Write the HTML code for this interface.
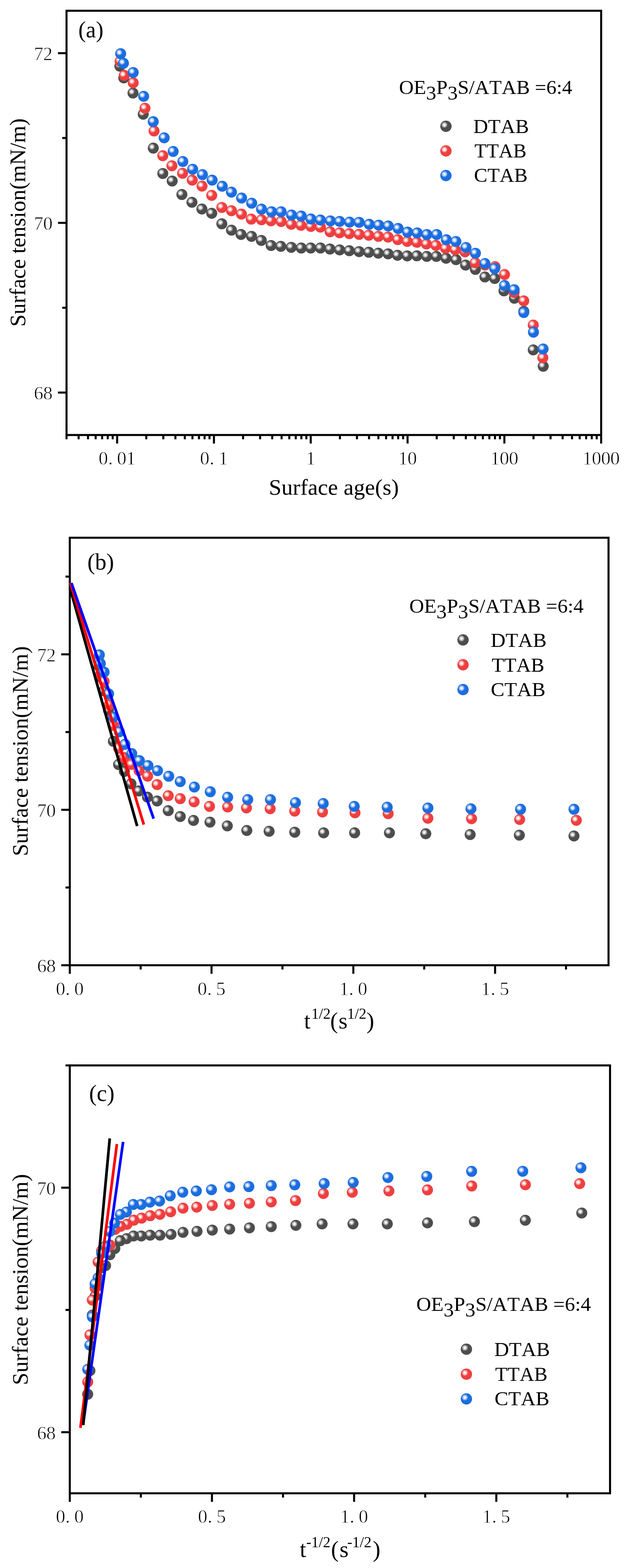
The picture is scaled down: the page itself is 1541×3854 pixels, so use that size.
<!DOCTYPE html>
<html lang="en">
<head>
<meta charset="utf-8">
<title>Dynamic surface tension of OE3P3S/ATAB mixtures</title>
<style>
html,body{margin:0;padding:0;background:#fff;}
body{width:1541px;height:3854px;overflow:hidden;}
svg{display:block;}
text{font-kerning:none;font-variant-ligatures:none;}
.tk{stroke:#fff;stroke-width:0.9px;stroke-linejoin:round;}
</style>
</head>
<body>
<svg width="1541" height="3854" viewBox="0 0 1541 3854" font-family='"Liberation Serif", serif' fill="#000">
<defs>
<g id="sk"><circle r="13.5" fill="#4d4d4d"/><circle cx="-3.6" cy="-3.4" r="7" fill="#909090"/><circle cx="-3.6" cy="-3.4" r="5.1" fill="#c6c6c6"/><circle cx="-3.6" cy="-3.4" r="2.8" fill="#fbfbfb"/></g>
<g id="sr"><circle r="13.5" fill="#ef3f40"/><circle cx="-3.6" cy="-3.4" r="7" fill="#f58b8b"/><circle cx="-3.6" cy="-3.4" r="5.1" fill="#fac3c3"/><circle cx="-3.6" cy="-3.4" r="2.8" fill="#ffffff"/></g>
<g id="sb"><circle r="13.5" fill="#1c6ddf"/><circle cx="-3.6" cy="-3.4" r="7" fill="#77a7ec"/><circle cx="-3.6" cy="-3.4" r="5.1" fill="#b5cff5"/><circle cx="-3.6" cy="-3.4" r="2.8" fill="#ffffff"/></g>
</defs>
<rect width="1541" height="3854" fill="#fff"/>
<g id="chart-a">
<use href="#sk" x="294.6" y="162.6"/>
<use href="#sk" x="304.2" y="191.4"/>
<use href="#sk" x="326.9" y="228.7"/>
<use href="#sk" x="352.0" y="280.8"/>
<use href="#sk" x="376.8" y="364.1"/>
<use href="#sk" x="400.1" y="426.4"/>
<use href="#sk" x="423.2" y="444.9"/>
<use href="#sk" x="447.0" y="478.1"/>
<use href="#sk" x="471.8" y="497.3"/>
<use href="#sk" x="496.2" y="513.8"/>
<use href="#sk" x="520.4" y="524.2"/>
<use href="#sk" x="545.2" y="550.1"/>
<use href="#sk" x="568.9" y="565.8"/>
<use href="#sk" x="592.4" y="576.3"/>
<use href="#sk" x="618.2" y="580.9"/>
<use href="#sk" x="642.3" y="591.0"/>
<use href="#sk" x="666.4" y="603.4"/>
<use href="#sk" x="690.2" y="605.5"/>
<use href="#sk" x="715.9" y="607.9"/>
<use href="#sk" x="740.4" y="609.6"/>
<use href="#sk" x="763.8" y="609.6"/>
<use href="#sk" x="787.6" y="609.6"/>
<use href="#sk" x="811.0" y="612.1"/>
<use href="#sk" x="834.8" y="614.2"/>
<use href="#sk" x="858.5" y="616.3"/>
<use href="#sk" x="882.6" y="618.4"/>
<use href="#sk" x="906.4" y="620.1"/>
<use href="#sk" x="929.8" y="622.2"/>
<use href="#sk" x="953.9" y="624.0"/>
<use href="#sk" x="977.0" y="627.5"/>
<use href="#sk" x="1000.9" y="628.9"/>
<use href="#sk" x="1024.7" y="628.8"/>
<use href="#sk" x="1048.9" y="630.2"/>
<use href="#sk" x="1072.6" y="630.2"/>
<use href="#sk" x="1096.4" y="634.8"/>
<use href="#sk" x="1120.9" y="638.3"/>
<use href="#sk" x="1144.3" y="651.5"/>
<use href="#sk" x="1168.4" y="662.1"/>
<use href="#sk" x="1191.8" y="680.7"/>
<use href="#sk" x="1215.9" y="684.5"/>
<use href="#sk" x="1238.6" y="714.9"/>
<use href="#sk" x="1264.3" y="733.1"/>
<use href="#sk" x="1287.3" y="765.2"/>
<use href="#sk" x="1310.6" y="860.0"/>
<use href="#sk" x="1335.1" y="900.2"/>
<use href="#sr" x="295.3" y="150.5"/>
<use href="#sr" x="305.4" y="185.3"/>
<use href="#sr" x="327.4" y="203.5"/>
<use href="#sr" x="356.4" y="266.0"/>
<use href="#sr" x="378.7" y="322.0"/>
<use href="#sr" x="400.1" y="382.7"/>
<use href="#sr" x="422.5" y="407.5"/>
<use href="#sr" x="448.7" y="426.0"/>
<use href="#sr" x="472.5" y="442.8"/>
<use href="#sr" x="496.6" y="457.5"/>
<use href="#sr" x="520.4" y="480.2"/>
<use href="#sr" x="545.2" y="509.9"/>
<use href="#sr" x="568.9" y="518.0"/>
<use href="#sr" x="593.4" y="526.3"/>
<use href="#sr" x="617.5" y="538.6"/>
<use href="#sr" x="642.7" y="540.3"/>
<use href="#sr" x="666.0" y="542.8"/>
<use href="#sr" x="691.0" y="544.4"/>
<use href="#sr" x="715.9" y="551.3"/>
<use href="#sr" x="739.7" y="553.7"/>
<use href="#sr" x="764.2" y="556.5"/>
<use href="#sr" x="787.6" y="558.3"/>
<use href="#sr" x="811.3" y="569.8"/>
<use href="#sr" x="834.8" y="572.2"/>
<use href="#sr" x="858.5" y="574.3"/>
<use href="#sr" x="882.6" y="576.1"/>
<use href="#sr" x="906.4" y="578.2"/>
<use href="#sr" x="930.2" y="581.0"/>
<use href="#sr" x="953.9" y="582.7"/>
<use href="#sr" x="977.7" y="589.0"/>
<use href="#sr" x="1001.0" y="593.3"/>
<use href="#sr" x="1024.5" y="595.6"/>
<use href="#sr" x="1048.0" y="599.8"/>
<use href="#sr" x="1071.5" y="603.3"/>
<use href="#sr" x="1095.0" y="610.3"/>
<use href="#sr" x="1119.0" y="613.8"/>
<use href="#sr" x="1143.0" y="619.0"/>
<use href="#sr" x="1167.8" y="645.7"/>
<use href="#sr" x="1192.0" y="651.5"/>
<use href="#sr" x="1216.8" y="655.6"/>
<use href="#sr" x="1240.0" y="674.7"/>
<use href="#sr" x="1263.6" y="718.8"/>
<use href="#sr" x="1287.3" y="739.5"/>
<use href="#sr" x="1310.6" y="799.0"/>
<use href="#sr" x="1334.2" y="879.2"/>
<use href="#sb" x="296.6" y="132.1"/>
<use href="#sb" x="303.4" y="155.5"/>
<use href="#sb" x="327.4" y="178.3"/>
<use href="#sb" x="353.1" y="236.8"/>
<use href="#sb" x="376.6" y="299.1"/>
<use href="#sb" x="403.5" y="338.7"/>
<use href="#sb" x="425.6" y="372.2"/>
<use href="#sb" x="449.4" y="397.0"/>
<use href="#sb" x="473.5" y="415.9"/>
<use href="#sb" x="497.6" y="429.2"/>
<use href="#sb" x="521.4" y="442.8"/>
<use href="#sb" x="546.2" y="457.8"/>
<use href="#sb" x="568.9" y="472.2"/>
<use href="#sb" x="593.8" y="486.8"/>
<use href="#sb" x="618.6" y="499.4"/>
<use href="#sb" x="642.7" y="514.1"/>
<use href="#sb" x="667.5" y="520.4"/>
<use href="#sb" x="691.0" y="520.5"/>
<use href="#sb" x="716.6" y="528.5"/>
<use href="#sb" x="740.4" y="531.0"/>
<use href="#sb" x="764.2" y="538.3"/>
<use href="#sb" x="787.6" y="540.8"/>
<use href="#sb" x="812.0" y="542.9"/>
<use href="#sb" x="834.8" y="544.3"/>
<use href="#sb" x="859.2" y="546.0"/>
<use href="#sb" x="882.6" y="546.4"/>
<use href="#sb" x="907.5" y="551.3"/>
<use href="#sb" x="930.9" y="553.4"/>
<use href="#sb" x="954.3" y="555.5"/>
<use href="#sb" x="978.6" y="561.6"/>
<use href="#sb" x="1001.8" y="570.5"/>
<use href="#sb" x="1025.4" y="572.5"/>
<use href="#sb" x="1049.2" y="576.4"/>
<use href="#sb" x="1073.3" y="576.4"/>
<use href="#sb" x="1097.1" y="589.3"/>
<use href="#sb" x="1120.5" y="593.5"/>
<use href="#sb" x="1145.3" y="608.2"/>
<use href="#sb" x="1168.5" y="622.4"/>
<use href="#sb" x="1191.9" y="647.7"/>
<use href="#sb" x="1215.9" y="659.9"/>
<use href="#sb" x="1240.0" y="701.7"/>
<use href="#sb" x="1263.6" y="711.9"/>
<use href="#sb" x="1287.3" y="768.1"/>
<use href="#sb" x="1311.1" y="816.4"/>
<use href="#sb" x="1334.8" y="857.7"/>
<rect x="163.5" y="26.4" width="1314.0" height="1042.8" fill="none" stroke="#000" stroke-width="5.0"/>
<line x1="142.5" y1="964.9" x2="163.5" y2="964.9" stroke="#000" stroke-width="5.0" stroke-linecap="butt"/>
<text class="tk" x="83.3 106.0" y="982.3" font-size="46.5">68</text>
<line x1="142.5" y1="547.8" x2="163.5" y2="547.8" stroke="#000" stroke-width="5.0" stroke-linecap="butt"/>
<text class="tk" x="83.3 106.0" y="565.2" font-size="46.5">70</text>
<line x1="142.5" y1="130.7" x2="163.5" y2="130.7" stroke="#000" stroke-width="5.0" stroke-linecap="butt"/>
<text class="tk" x="83.3 106.0" y="148.1" font-size="46.5">72</text>
<line x1="153.0" y1="756.4" x2="163.5" y2="756.4" stroke="#000" stroke-width="5.0" stroke-linecap="butt"/>
<line x1="153.0" y1="339.2" x2="163.5" y2="339.2" stroke="#000" stroke-width="5.0" stroke-linecap="butt"/>
<line x1="163.5" y1="1069.2" x2="163.5" y2="1079.7" stroke="#000" stroke-width="5.0" stroke-linecap="butt"/>
<line x1="193.2" y1="1069.2" x2="193.2" y2="1079.7" stroke="#000" stroke-width="5.0" stroke-linecap="butt"/>
<line x1="216.3" y1="1069.2" x2="216.3" y2="1079.7" stroke="#000" stroke-width="5.0" stroke-linecap="butt"/>
<line x1="235.1" y1="1069.2" x2="235.1" y2="1079.7" stroke="#000" stroke-width="5.0" stroke-linecap="butt"/>
<line x1="251.0" y1="1069.2" x2="251.0" y2="1079.7" stroke="#000" stroke-width="5.0" stroke-linecap="butt"/>
<line x1="264.8" y1="1069.2" x2="264.8" y2="1079.7" stroke="#000" stroke-width="5.0" stroke-linecap="butt"/>
<line x1="277.0" y1="1069.2" x2="277.0" y2="1079.7" stroke="#000" stroke-width="5.0" stroke-linecap="butt"/>
<line x1="287.9" y1="1069.2" x2="287.9" y2="1090.2" stroke="#000" stroke-width="5.0" stroke-linecap="butt"/>
<line x1="359.5" y1="1069.2" x2="359.5" y2="1079.7" stroke="#000" stroke-width="5.0" stroke-linecap="butt"/>
<line x1="401.4" y1="1069.2" x2="401.4" y2="1079.7" stroke="#000" stroke-width="5.0" stroke-linecap="butt"/>
<line x1="431.1" y1="1069.2" x2="431.1" y2="1079.7" stroke="#000" stroke-width="5.0" stroke-linecap="butt"/>
<line x1="454.2" y1="1069.2" x2="454.2" y2="1079.7" stroke="#000" stroke-width="5.0" stroke-linecap="butt"/>
<line x1="473.0" y1="1069.2" x2="473.0" y2="1079.7" stroke="#000" stroke-width="5.0" stroke-linecap="butt"/>
<line x1="489.0" y1="1069.2" x2="489.0" y2="1079.7" stroke="#000" stroke-width="5.0" stroke-linecap="butt"/>
<line x1="502.8" y1="1069.2" x2="502.8" y2="1079.7" stroke="#000" stroke-width="5.0" stroke-linecap="butt"/>
<line x1="514.9" y1="1069.2" x2="514.9" y2="1079.7" stroke="#000" stroke-width="5.0" stroke-linecap="butt"/>
<line x1="525.8" y1="1069.2" x2="525.8" y2="1090.2" stroke="#000" stroke-width="5.0" stroke-linecap="butt"/>
<line x1="597.4" y1="1069.2" x2="597.4" y2="1079.7" stroke="#000" stroke-width="5.0" stroke-linecap="butt"/>
<line x1="639.3" y1="1069.2" x2="639.3" y2="1079.7" stroke="#000" stroke-width="5.0" stroke-linecap="butt"/>
<line x1="669.1" y1="1069.2" x2="669.1" y2="1079.7" stroke="#000" stroke-width="5.0" stroke-linecap="butt"/>
<line x1="692.1" y1="1069.2" x2="692.1" y2="1079.7" stroke="#000" stroke-width="5.0" stroke-linecap="butt"/>
<line x1="711.0" y1="1069.2" x2="711.0" y2="1079.7" stroke="#000" stroke-width="5.0" stroke-linecap="butt"/>
<line x1="726.9" y1="1069.2" x2="726.9" y2="1079.7" stroke="#000" stroke-width="5.0" stroke-linecap="butt"/>
<line x1="740.7" y1="1069.2" x2="740.7" y2="1079.7" stroke="#000" stroke-width="5.0" stroke-linecap="butt"/>
<line x1="752.9" y1="1069.2" x2="752.9" y2="1079.7" stroke="#000" stroke-width="5.0" stroke-linecap="butt"/>
<line x1="763.7" y1="1069.2" x2="763.7" y2="1090.2" stroke="#000" stroke-width="5.0" stroke-linecap="butt"/>
<line x1="835.4" y1="1069.2" x2="835.4" y2="1079.7" stroke="#000" stroke-width="5.0" stroke-linecap="butt"/>
<line x1="877.3" y1="1069.2" x2="877.3" y2="1079.7" stroke="#000" stroke-width="5.0" stroke-linecap="butt"/>
<line x1="907.0" y1="1069.2" x2="907.0" y2="1079.7" stroke="#000" stroke-width="5.0" stroke-linecap="butt"/>
<line x1="930.0" y1="1069.2" x2="930.0" y2="1079.7" stroke="#000" stroke-width="5.0" stroke-linecap="butt"/>
<line x1="948.9" y1="1069.2" x2="948.9" y2="1079.7" stroke="#000" stroke-width="5.0" stroke-linecap="butt"/>
<line x1="964.8" y1="1069.2" x2="964.8" y2="1079.7" stroke="#000" stroke-width="5.0" stroke-linecap="butt"/>
<line x1="978.6" y1="1069.2" x2="978.6" y2="1079.7" stroke="#000" stroke-width="5.0" stroke-linecap="butt"/>
<line x1="990.8" y1="1069.2" x2="990.8" y2="1079.7" stroke="#000" stroke-width="5.0" stroke-linecap="butt"/>
<line x1="1001.7" y1="1069.2" x2="1001.7" y2="1090.2" stroke="#000" stroke-width="5.0" stroke-linecap="butt"/>
<line x1="1073.3" y1="1069.2" x2="1073.3" y2="1079.7" stroke="#000" stroke-width="5.0" stroke-linecap="butt"/>
<line x1="1115.2" y1="1069.2" x2="1115.2" y2="1079.7" stroke="#000" stroke-width="5.0" stroke-linecap="butt"/>
<line x1="1144.9" y1="1069.2" x2="1144.9" y2="1079.7" stroke="#000" stroke-width="5.0" stroke-linecap="butt"/>
<line x1="1168.0" y1="1069.2" x2="1168.0" y2="1079.7" stroke="#000" stroke-width="5.0" stroke-linecap="butt"/>
<line x1="1186.8" y1="1069.2" x2="1186.8" y2="1079.7" stroke="#000" stroke-width="5.0" stroke-linecap="butt"/>
<line x1="1202.7" y1="1069.2" x2="1202.7" y2="1079.7" stroke="#000" stroke-width="5.0" stroke-linecap="butt"/>
<line x1="1216.5" y1="1069.2" x2="1216.5" y2="1079.7" stroke="#000" stroke-width="5.0" stroke-linecap="butt"/>
<line x1="1228.7" y1="1069.2" x2="1228.7" y2="1079.7" stroke="#000" stroke-width="5.0" stroke-linecap="butt"/>
<line x1="1239.6" y1="1069.2" x2="1239.6" y2="1090.2" stroke="#000" stroke-width="5.0" stroke-linecap="butt"/>
<line x1="1311.2" y1="1069.2" x2="1311.2" y2="1079.7" stroke="#000" stroke-width="5.0" stroke-linecap="butt"/>
<line x1="1353.1" y1="1069.2" x2="1353.1" y2="1079.7" stroke="#000" stroke-width="5.0" stroke-linecap="butt"/>
<line x1="1382.8" y1="1069.2" x2="1382.8" y2="1079.7" stroke="#000" stroke-width="5.0" stroke-linecap="butt"/>
<line x1="1405.9" y1="1069.2" x2="1405.9" y2="1079.7" stroke="#000" stroke-width="5.0" stroke-linecap="butt"/>
<line x1="1424.7" y1="1069.2" x2="1424.7" y2="1079.7" stroke="#000" stroke-width="5.0" stroke-linecap="butt"/>
<line x1="1440.6" y1="1069.2" x2="1440.6" y2="1079.7" stroke="#000" stroke-width="5.0" stroke-linecap="butt"/>
<line x1="1454.4" y1="1069.2" x2="1454.4" y2="1079.7" stroke="#000" stroke-width="5.0" stroke-linecap="butt"/>
<line x1="1466.6" y1="1069.2" x2="1466.6" y2="1079.7" stroke="#000" stroke-width="5.0" stroke-linecap="butt"/>
<line x1="1477.5" y1="1069.2" x2="1477.5" y2="1090.2" stroke="#000" stroke-width="5.0" stroke-linecap="butt"/>
<text class="tk" x="242.2 265.7 287.6 310.3" y="1141.8" font-size="46.5">0.01</text>
<text class="tk" x="491.5 515.0 536.9" y="1141.8" font-size="46.5">0.1</text>
<text class="tk" x="752.1" y="1141.8" font-size="46.5">1</text>
<text class="tk" x="978.7 1001.4" y="1141.8" font-size="46.5">10</text>
<text class="tk" x="1205.3 1228.0 1250.7" y="1141.8" font-size="46.5">100</text>
<text class="tk" x="1431.8 1454.5 1477.2 1499.9" y="1141.8" font-size="46.5">1000</text>
<text transform="translate(192.48 92.3) scale(0.9930 1)" font-size="56">(a)</text>
<text transform="translate(62.0 803.05) rotate(-90) scale(0.9806 1)" font-size="55.5">Surface tension(mN/m)</text>
<text transform="translate(660.87 1216.3) scale(1.0019 1)" font-size="55.5">Surface age(s)</text>
<text transform="translate(980.81 230.8) scale(1.0282 1)" font-size="48.5">OE<tspan dy="14">3</tspan><tspan dy="-14">P</tspan><tspan dy="14">3</tspan><tspan dy="-14">S/ATAB =6:4</tspan></text>
<g transform="translate(1096.0 310.4) scale(1.03)"><use href="#sk"/></g>
<text transform="translate(1163.32 326.8) scale(1.0342 1)" font-size="48.5">DTAB</text>
<g transform="translate(1096.0 371.0) scale(1.03)"><use href="#sr"/></g>
<text transform="translate(1166.05 386.8) scale(1.0098 1)" font-size="48.5">TTAB</text>
<g transform="translate(1096.0 431.5) scale(1.03)"><use href="#sb"/></g>
<text transform="translate(1165.03 446.9) scale(1.0176 1)" font-size="48.5">CTAB</text>
</g>
<g id="chart-b">
<rect x="171.5" y="1321.7" width="1324.1" height="1050.8" fill="none" stroke="#000" stroke-width="5.0"/>
<use href="#sk" x="243.5" y="1637.5"/>
<use href="#sk" x="246.9" y="1663.9"/>
<use href="#sk" x="255.7" y="1698.1"/>
<use href="#sk" x="266.5" y="1745.8"/>
<use href="#sk" x="278.6" y="1822.1"/>
<use href="#sk" x="291.4" y="1879.2"/>
<use href="#sk" x="305.6" y="1896.1"/>
<use href="#sk" x="322.0" y="1926.5"/>
<use href="#sk" x="341.2" y="1944.1"/>
<use href="#sk" x="362.4" y="1959.2"/>
<use href="#sk" x="386.2" y="1968.8"/>
<use href="#sk" x="413.5" y="1992.5"/>
<use href="#sk" x="443.0" y="2006.9"/>
<use href="#sk" x="475.6" y="2016.5"/>
<use href="#sk" x="516.1" y="2020.7"/>
<use href="#sk" x="558.7" y="2030.0"/>
<use href="#sk" x="606.6" y="2041.3"/>
<use href="#sk" x="661.4" y="2043.2"/>
<use href="#sk" x="724.4" y="2045.4"/>
<use href="#sk" x="795.5" y="2047.0"/>
<use href="#sk" x="871.6" y="2047.0"/>
<use href="#sk" x="957.1" y="2047.0"/>
<use href="#sk" x="1046.5" y="2049.3"/>
<use href="#sk" x="1155.5" y="2051.2"/>
<use href="#sk" x="1276.4" y="2052.7"/>
<use href="#sk" x="1410.7" y="2054.7"/>
<use href="#sr" x="243.7" y="1626.4"/>
<use href="#sr" x="247.3" y="1658.3"/>
<use href="#sr" x="255.9" y="1675.0"/>
<use href="#sr" x="268.6" y="1732.2"/>
<use href="#sr" x="279.6" y="1783.5"/>
<use href="#sr" x="291.4" y="1839.1"/>
<use href="#sr" x="305.2" y="1861.9"/>
<use href="#sr" x="323.2" y="1878.8"/>
<use href="#sr" x="341.8" y="1894.2"/>
<use href="#sr" x="362.8" y="1907.7"/>
<use href="#sr" x="386.2" y="1928.5"/>
<use href="#sr" x="413.5" y="1955.7"/>
<use href="#sr" x="443.0" y="1963.1"/>
<use href="#sr" x="477.1" y="1970.7"/>
<use href="#sr" x="514.9" y="1982.0"/>
<use href="#sr" x="559.5" y="1983.5"/>
<use href="#sr" x="605.8" y="1985.8"/>
<use href="#sr" x="664.0" y="1987.8"/>
<use href="#sr" x="724.4" y="1993.6"/>
<use href="#sr" x="792.7" y="1995.8"/>
<use href="#sr" x="872.5" y="1997.8"/>
<use href="#sr" x="954.0" y="2000.0"/>
<use href="#sr" x="1051.6" y="2011.1"/>
<use href="#sr" x="1159.0" y="2012.3"/>
<use href="#sr" x="1277.2" y="2014.3"/>
<use href="#sr" x="1416.5" y="2016.3"/>
<use href="#sb" x="244.2" y="1609.6"/>
<use href="#sb" x="246.6" y="1631.0"/>
<use href="#sb" x="255.9" y="1651.9"/>
<use href="#sb" x="267.0" y="1705.5"/>
<use href="#sb" x="278.5" y="1762.6"/>
<use href="#sb" x="293.4" y="1798.8"/>
<use href="#sb" x="307.2" y="1829.5"/>
<use href="#sb" x="323.8" y="1852.2"/>
<use href="#sb" x="342.6" y="1869.6"/>
<use href="#sb" x="363.7" y="1881.7"/>
<use href="#sb" x="387.2" y="1894.2"/>
<use href="#sb" x="414.7" y="1907.9"/>
<use href="#sb" x="443.0" y="1921.1"/>
<use href="#sb" x="477.7" y="1934.5"/>
<use href="#sb" x="516.8" y="1946.1"/>
<use href="#sb" x="559.5" y="1959.5"/>
<use href="#sb" x="608.9" y="1965.3"/>
<use href="#sb" x="664.7" y="1965.4"/>
<use href="#sb" x="726.2" y="1972.7"/>
<use href="#sb" x="794.4" y="1975.0"/>
<use href="#sb" x="870.6" y="1982.0"/>
<use href="#sb" x="951.6" y="1984.0"/>
<use href="#sb" x="1051.7" y="1985.9"/>
<use href="#sb" x="1157.5" y="1988.0"/>
<use href="#sb" x="1279.4" y="1989.1"/>
<use href="#sb" x="1410.7" y="1989.1"/>
<line x1="171.5" y1="1443.7" x2="337.1" y2="2030.3" stroke="#000" stroke-width="6.7" stroke-linecap="butt"/>
<line x1="172.8" y1="1432.6" x2="353.4" y2="2026.8" stroke="#f00" stroke-width="6.7" stroke-linecap="butt"/>
<line x1="175.6" y1="1433.0" x2="377.6" y2="2012.2" stroke="#00f" stroke-width="6.7" stroke-linecap="butt"/>
<line x1="150.5" y1="2372.5" x2="171.5" y2="2372.5" stroke="#000" stroke-width="5.0" stroke-linecap="butt"/>
<text class="tk" x="91.3 114.0" y="2389.9" font-size="46.5">68</text>
<line x1="150.5" y1="1990.4" x2="171.5" y2="1990.4" stroke="#000" stroke-width="5.0" stroke-linecap="butt"/>
<text class="tk" x="91.3 114.0" y="2007.8" font-size="46.5">70</text>
<line x1="150.5" y1="1608.3" x2="171.5" y2="1608.3" stroke="#000" stroke-width="5.0" stroke-linecap="butt"/>
<text class="tk" x="91.3 114.0" y="1625.7" font-size="46.5">72</text>
<line x1="161.0" y1="2181.4" x2="171.5" y2="2181.4" stroke="#000" stroke-width="5.0" stroke-linecap="butt"/>
<line x1="161.0" y1="1799.3" x2="171.5" y2="1799.3" stroke="#000" stroke-width="5.0" stroke-linecap="butt"/>
<line x1="161.0" y1="1417.2" x2="171.5" y2="1417.2" stroke="#000" stroke-width="5.0" stroke-linecap="butt"/>
<line x1="171.5" y1="2372.5" x2="171.5" y2="2393.5" stroke="#000" stroke-width="5.0" stroke-linecap="butt"/>
<line x1="345.7" y1="2372.5" x2="345.7" y2="2383.0" stroke="#000" stroke-width="5.0" stroke-linecap="butt"/>
<line x1="519.9" y1="2372.5" x2="519.9" y2="2393.5" stroke="#000" stroke-width="5.0" stroke-linecap="butt"/>
<line x1="694.2" y1="2372.5" x2="694.2" y2="2383.0" stroke="#000" stroke-width="5.0" stroke-linecap="butt"/>
<line x1="868.4" y1="2372.5" x2="868.4" y2="2393.5" stroke="#000" stroke-width="5.0" stroke-linecap="butt"/>
<line x1="1042.6" y1="2372.5" x2="1042.6" y2="2383.0" stroke="#000" stroke-width="5.0" stroke-linecap="butt"/>
<line x1="1216.8" y1="2372.5" x2="1216.8" y2="2393.5" stroke="#000" stroke-width="5.0" stroke-linecap="butt"/>
<line x1="1391.1" y1="2372.5" x2="1391.1" y2="2383.0" stroke="#000" stroke-width="5.0" stroke-linecap="butt"/>
<text class="tk" x="137.2 160.6 182.6" y="2445.5" font-size="46.5">0.0</text>
<text class="tk" x="485.6 509.1 531.0" y="2445.5" font-size="46.5">0.5</text>
<text class="tk" x="834.1 857.5 879.5" y="2445.5" font-size="46.5">1.0</text>
<text class="tk" x="1182.5 1206.0 1227.9" y="2445.5" font-size="46.5">1.5</text>
<text transform="translate(214.75 1400.2) scale(1.0034 1)" font-size="56">(b)</text>
<text transform="translate(67.6 2104.37) rotate(-90) scale(0.9880 1)" font-size="55.5">Surface tension(mN/m)</text>
<text y="2527.5" font-size="57"><tspan x="747.3">t</tspan><tspan x="765.3" dy="-23.7" font-size="37">1/2</tspan><tspan x="811.4" dy="23.7">(</tspan><tspan x="832.1">s</tspan><tspan x="853.3" dy="-23.7" font-size="37">1/2</tspan><tspan x="900.8" dy="23.7">)</tspan></text>
<text transform="translate(1005.99 1505.6) scale(1.0345 1)" font-size="48.5">OE<tspan dy="14">3</tspan><tspan dy="-14">P</tspan><tspan dy="14">3</tspan><tspan dy="-14">S/ATAB =6:4</tspan></text>
<g transform="translate(1138.0 1572.8) scale(1.03)"><use href="#sk"/></g>
<text transform="translate(1206.02 1589.9) scale(1.0403 1)" font-size="48.5">DTAB</text>
<g transform="translate(1138.0 1634.0) scale(1.03)"><use href="#sr"/></g>
<text transform="translate(1208.44 1650.7) scale(1.0228 1)" font-size="48.5">TTAB</text>
<g transform="translate(1138.0 1694.9) scale(1.03)"><use href="#sb"/></g>
<text transform="translate(1206.28 1711.0) scale(1.0385 1)" font-size="48.5">CTAB</text>
</g>
<g id="chart-c">
<rect x="171.5" y="2618.7" width="1327.8" height="1051.7" fill="none" stroke="#000" stroke-width="5.0"/>
<use href="#sk" x="1429.8" y="2981.4"/>
<use href="#sk" x="1291.1" y="2999.3"/>
<use href="#sk" x="1166.0" y="3002.7"/>
<use href="#sk" x="1050.7" y="3005.8"/>
<use href="#sk" x="951.9" y="3008.2"/>
<use href="#sk" x="867.5" y="3008.2"/>
<use href="#sk" x="791.7" y="3008.2"/>
<use href="#sk" x="727.2" y="3011.8"/>
<use href="#sk" x="666.7" y="3014.9"/>
<use href="#sk" x="613.0" y="3017.9"/>
<use href="#sk" x="564.4" y="3020.9"/>
<use href="#sk" x="521.7" y="3023.4"/>
<use href="#sk" x="484.2" y="3026.4"/>
<use href="#sk" x="449.8" y="3029.0"/>
<use href="#sk" x="420.4" y="3034.0"/>
<use href="#sk" x="393.2" y="3036.0"/>
<use href="#sk" x="369.1" y="3035.9"/>
<use href="#sk" x="347.2" y="3037.9"/>
<use href="#sk" x="328.2" y="3037.9"/>
<use href="#sk" x="311.1" y="3044.5"/>
<use href="#sk" x="295.5" y="3049.6"/>
<use href="#sk" x="282.3" y="3068.6"/>
<use href="#sk" x="270.1" y="3083.9"/>
<use href="#sk" x="259.5" y="3110.7"/>
<use href="#sk" x="249.8" y="3116.1"/>
<use href="#sk" x="241.7" y="3159.9"/>
<use href="#sk" x="233.5" y="3186.2"/>
<use href="#sk" x="226.9" y="3232.4"/>
<use href="#sk" x="221.0" y="3369.0"/>
<use href="#sk" x="215.5" y="3426.9"/>
<use href="#sr" x="1424.7" y="2909.2"/>
<use href="#sr" x="1291.3" y="2912.0"/>
<use href="#sr" x="1159.4" y="2915.1"/>
<use href="#sr" x="1050.7" y="2924.6"/>
<use href="#sr" x="955.8" y="2927.3"/>
<use href="#sr" x="865.8" y="2930.5"/>
<use href="#sr" x="794.8" y="2933.5"/>
<use href="#sr" x="726.3" y="2950.9"/>
<use href="#sr" x="666.7" y="2954.3"/>
<use href="#sr" x="613.0" y="2957.4"/>
<use href="#sr" x="564.4" y="2960.0"/>
<use href="#sr" x="521.7" y="2963.0"/>
<use href="#sr" x="483.6" y="2967.0"/>
<use href="#sr" x="449.8" y="2969.5"/>
<use href="#sr" x="419.5" y="2978.5"/>
<use href="#sr" x="393.1" y="2984.7"/>
<use href="#sr" x="369.3" y="2988.1"/>
<use href="#sr" x="348.0" y="2994.1"/>
<use href="#sr" x="329.0" y="2999.1"/>
<use href="#sr" x="312.1" y="3009.2"/>
<use href="#sr" x="296.7" y="3014.3"/>
<use href="#sr" x="283.0" y="3021.8"/>
<use href="#sr" x="270.3" y="3060.2"/>
<use href="#sr" x="259.4" y="3068.6"/>
<use href="#sr" x="249.5" y="3074.5"/>
<use href="#sr" x="241.2" y="3102.0"/>
<use href="#sr" x="233.7" y="3165.6"/>
<use href="#sr" x="226.9" y="3195.4"/>
<use href="#sr" x="221.0" y="3281.1"/>
<use href="#sr" x="215.7" y="3396.7"/>
<use href="#sb" x="1427.8" y="2870.2"/>
<use href="#sb" x="1284.8" y="2878.9"/>
<use href="#sb" x="1159.1" y="2879.1"/>
<use href="#sb" x="1048.9" y="2891.4"/>
<use href="#sb" x="953.4" y="2894.2"/>
<use href="#sb" x="868.1" y="2906.3"/>
<use href="#sb" x="796.7" y="2909.1"/>
<use href="#sb" x="724.5" y="2912.1"/>
<use href="#sb" x="666.7" y="2914.1"/>
<use href="#sb" x="611.6" y="2916.6"/>
<use href="#sb" x="564.4" y="2917.2"/>
<use href="#sb" x="519.8" y="2924.2"/>
<use href="#sb" x="482.5" y="2927.3"/>
<use href="#sb" x="449.2" y="2930.3"/>
<use href="#sb" x="418.4" y="2939.1"/>
<use href="#sb" x="392.2" y="2951.9"/>
<use href="#sb" x="368.4" y="2954.8"/>
<use href="#sb" x="347.0" y="2960.4"/>
<use href="#sb" x="327.7" y="2960.4"/>
<use href="#sb" x="310.7" y="2979.0"/>
<use href="#sb" x="295.8" y="2985.0"/>
<use href="#sb" x="281.7" y="3006.2"/>
<use href="#sb" x="270.0" y="3026.7"/>
<use href="#sb" x="259.5" y="3063.1"/>
<use href="#sb" x="249.8" y="3080.7"/>
<use href="#sb" x="241.2" y="3140.9"/>
<use href="#sb" x="233.7" y="3155.6"/>
<use href="#sb" x="226.9" y="3236.6"/>
<use href="#sb" x="220.9" y="3306.2"/>
<use href="#sb" x="215.6" y="3365.7"/>
<line x1="204.8" y1="3497.0" x2="302.6" y2="2806.6" stroke="#00f" stroke-width="6.6" stroke-linecap="butt"/>
<line x1="197.7" y1="3509.5" x2="287.3" y2="2812.0" stroke="#f00" stroke-width="6.6" stroke-linecap="butt"/>
<line x1="204.5" y1="3502.8" x2="269.7" y2="2798.1" stroke="#000" stroke-width="6.6" stroke-linecap="butt"/>
<line x1="150.5" y1="3520.2" x2="171.5" y2="3520.2" stroke="#000" stroke-width="5.0" stroke-linecap="butt"/>
<text class="tk" x="91.1 113.8" y="3537.6" font-size="46.5">68</text>
<line x1="150.5" y1="2919.2" x2="171.5" y2="2919.2" stroke="#000" stroke-width="5.0" stroke-linecap="butt"/>
<text class="tk" x="91.1 113.8" y="2936.6" font-size="46.5">70</text>
<line x1="161.0" y1="3219.7" x2="171.5" y2="3219.7" stroke="#000" stroke-width="5.0" stroke-linecap="butt"/>
<line x1="161.0" y1="2618.7" x2="171.5" y2="2618.7" stroke="#000" stroke-width="5.0" stroke-linecap="butt"/>
<line x1="171.5" y1="3670.4" x2="171.5" y2="3691.4" stroke="#000" stroke-width="5.0" stroke-linecap="butt"/>
<line x1="346.2" y1="3670.4" x2="346.2" y2="3680.9" stroke="#000" stroke-width="5.0" stroke-linecap="butt"/>
<line x1="520.9" y1="3670.4" x2="520.9" y2="3691.4" stroke="#000" stroke-width="5.0" stroke-linecap="butt"/>
<line x1="695.6" y1="3670.4" x2="695.6" y2="3680.9" stroke="#000" stroke-width="5.0" stroke-linecap="butt"/>
<line x1="870.3" y1="3670.4" x2="870.3" y2="3691.4" stroke="#000" stroke-width="5.0" stroke-linecap="butt"/>
<line x1="1045.1" y1="3670.4" x2="1045.1" y2="3680.9" stroke="#000" stroke-width="5.0" stroke-linecap="butt"/>
<line x1="1219.8" y1="3670.4" x2="1219.8" y2="3691.4" stroke="#000" stroke-width="5.0" stroke-linecap="butt"/>
<line x1="1394.5" y1="3670.4" x2="1394.5" y2="3680.9" stroke="#000" stroke-width="5.0" stroke-linecap="butt"/>
<text class="tk" x="137.2 160.6 182.6" y="3743.4" font-size="46.5">0.0</text>
<text class="tk" x="486.6 510.1 532.0" y="3743.4" font-size="46.5">0.5</text>
<text class="tk" x="836.0 859.5 881.4" y="3743.4" font-size="46.5">1.0</text>
<text class="tk" x="1185.4 1208.9 1230.8" y="3743.4" font-size="46.5">1.5</text>
<text transform="translate(219.04 2706.3) scale(1.0039 1)" font-size="56">(c)</text>
<text transform="translate(68.4 3404.40) rotate(-90) scale(0.9934 1)" font-size="55.5">Surface tension(mN/m)</text>
<text y="3826.8" font-size="57"><tspan x="736.7">t</tspan><tspan x="752.7" dy="-23.7" font-size="37">-1/2</tspan><tspan x="813.6" dy="23.7">(</tspan><tspan x="834.6">s</tspan><tspan x="853.4" dy="-23.7" font-size="37">-1/2</tspan><tspan x="916.1" dy="23.7">)</tspan></text>
<text transform="translate(1023.17 3222.4) scale(1.0370 1)" font-size="48.5">OE<tspan dy="14">3</tspan><tspan dy="-14">P</tspan><tspan dy="14">3</tspan><tspan dy="-14">S/ATAB =6:4</tspan></text>
<g transform="translate(1146.3 3316.2) scale(1.03)"><use href="#sk"/></g>
<text transform="translate(1214.69 3332.5) scale(1.0375 1)" font-size="48.5">DTAB</text>
<g transform="translate(1146.3 3377.7) scale(1.03)"><use href="#sr"/></g>
<text transform="translate(1217.05 3393.5) scale(1.0147 1)" font-size="48.5">TTAB</text>
<g transform="translate(1146.3 3438.3) scale(1.03)"><use href="#sb"/></g>
<text transform="translate(1215.49 3454.3) scale(1.0417 1)" font-size="48.5">CTAB</text>
</g>
</svg>
</body>
</html>
